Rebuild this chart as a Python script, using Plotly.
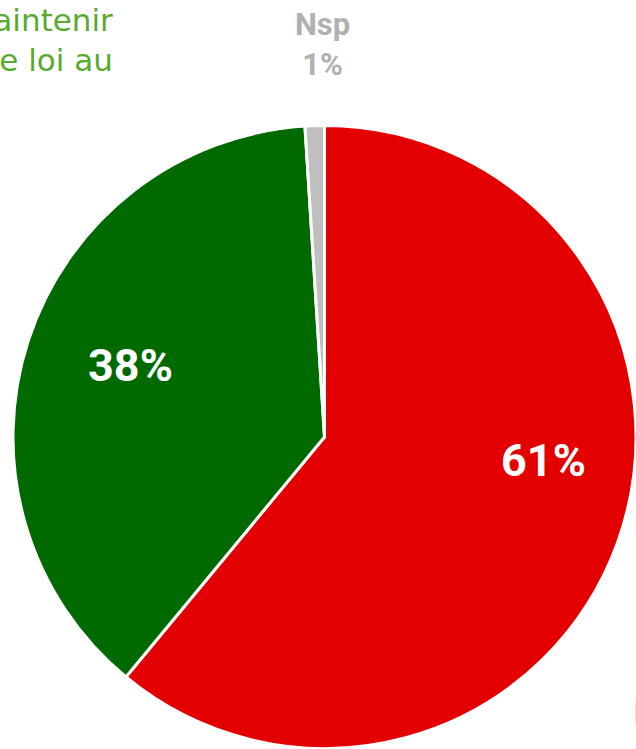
import plotly.graph_objects as go

# Data
labels = ["Il faut abroger cette loi", "Il faut maintenir cette loi au", "Nsp"]
values = [61, 38, 1]
colors = ["#e20000", "#006a00", "#bfbfbf"]
text_colors = ["#e00000", "#58ab2f", "#b0b0b0"]
pct_labels = [f"{v}%" for v in values]

W, H = 636, 749

fig = go.Figure()
fig.add_trace(go.Pie(
    labels=labels,
    values=values,
    sort=False,
    direction="clockwise",
    rotation=0,
    marker=dict(colors=colors, line=dict(color="white", width=3)),
    textinfo="none",
    domain=dict(x=[13 / W, 1], y=[0, 1 - 125 / H]),
    showlegend=False,
    hoverinfo="label+percent",
))

# Percentages inside slices
pct_pos = [(543, 460), (130, 365)]
for i, (px, py) in enumerate(pct_pos):
    fig.add_annotation(
        text=f"<b>{pct_labels[i]}</b>",
        x=px / W, y=1 - py / H, xref="paper", yref="paper",
        xanchor="center", yanchor="middle", showarrow=False,
        font=dict(family="Roboto", size=45, color="white"),
    )

# Outside labels
fig.add_annotation(
    text=f"<b>{labels[2]}<br>{pct_labels[2]}</b>",
    x=322 / W, y=1 - 44 / H, xref="paper", yref="paper",
    xanchor="center", yanchor="middle", showarrow=False, align="center",
    font=dict(family="Roboto", size=31, color=text_colors[2]),
)
fig.add_annotation(
    text="Il faut maintenir<br>cette loi au",
    x=115 / W, y=1 - 40 / H, xref="paper", yref="paper",
    xanchor="right", yanchor="middle", showarrow=False, align="right",
    font=dict(family="DejaVu Sans", size=31, color=text_colors[1]),
)
fig.add_annotation(
    text=labels[0],
    x=631 / W, y=1 - 713 / H, xref="paper", yref="paper",
    xanchor="left", yanchor="middle", showarrow=False, align="left",
    font=dict(family="DejaVu Sans", size=31, color=text_colors[0]),
)

fig.update_layout(
    width=W, height=H,
    margin=dict(l=0, r=0, t=0, b=0),
    paper_bgcolor="white",
    plot_bgcolor="white",
)

fig.write_html("out.html", config={"displayModeBar": False},
               post_script="document.body.style.margin='0';")
